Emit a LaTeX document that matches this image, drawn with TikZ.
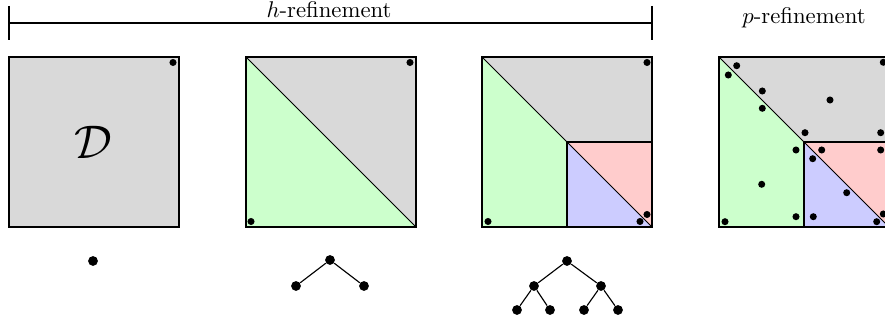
\documentclass[tikz,border=0pt]{standalone}
\usepackage{amsmath}
\tikzset{
  px/.style={x=0.44pt,y=-0.44pt},
  edgeline/.style={line width=0.45pt,draw=black},
  sqdot/.style={circle,fill=black,inner sep=0pt,minimum size=3.1pt},
  treedot/.style={circle,fill=black,inner sep=0pt,minimum size=4.3pt},
  treeedge/.style={line width=0.5pt},
}
\colorlet{cgray}{black!15}
\colorlet{cgreen}{green!20}
\colorlet{cred}{red!20}
\colorlet{cblue}{blue!20}
\begin{document}
\begin{tikzpicture}[px]
\clip (0,0) rectangle (885,327);
\useasboundingbox (0,0) rectangle (885,327);

% header
\coordinate (hl) at (9,23);
\coordinate (hr) at (652,23);
\draw[line width=0.5pt] (hl) -- (hr);
\draw[line width=0.5pt] (9,6) -- (9,40);
\draw[line width=0.5pt] (652,6) -- (652,40);
\node[anchor=base,inner sep=0pt] (htext) at (329,17.5) {$h$-refinement};
\node[anchor=base,inner sep=0pt] (ptext) at (804,23.5) {$p$-refinement};

% square 1
\filldraw[fill=cgray,edgeline] (9,57) rectangle (179,227);
\node (D) at (93,142) {\fontsize{20.5}{24}\selectfont$\mathcal{D}$};
\node[sqdot] (d1a) at (173,62.5) {};

% square 2
\fill[cgray] (246,57) -- (416,57) -- (416,227) -- cycle;
\fill[cgreen] (246,57) -- (416,227) -- (246,227) -- cycle;
\draw[edgeline] (246,57) rectangle (416,227);
\draw[edgeline] (246,57) -- (416,227);
\node[sqdot] (d2a) at (410,62.5) {};
\node[sqdot] (d2b) at (251,221.5) {};

% square 3
\fill[cgray] (482,57) -- (652,57) -- (652,142) -- (567,142) -- cycle;
\fill[cgreen] (482,57) -- (567,142) -- (567,227) -- (482,227) -- cycle;
\fill[cred] (567,142) -- (652,142) -- (652,227) -- cycle;
\fill[cblue] (567,142) -- (567,227) -- (652,227) -- cycle;
\draw[edgeline] (482,57) rectangle (652,227);
\draw[edgeline] (482,57) -- (652,227);
\draw[edgeline] (567,142) -- (652,142);
\draw[edgeline] (567,142) -- (567,227);
\node[sqdot] at (647,62.5) {};
\node[sqdot] at (488,221.5) {};
\node[sqdot] at (647,214.5) {};
\node[sqdot] at (640,221.5) {};

% square 4
\fill[cgray] (719,57) -- (889,57) -- (889,142) -- (804,142) -- cycle;
\fill[cgreen] (719,57) -- (804,142) -- (804,227) -- (719,227) -- cycle;
\fill[cred] (804,142) -- (889,142) -- (889,227) -- cycle;
\fill[cblue] (804,142) -- (804,227) -- (889,227) -- cycle;
\draw[edgeline] (719,57) rectangle (889,227);
\draw[edgeline] (719,57) -- (889,227);
\draw[edgeline] (804,142) -- (889,142);
\draw[edgeline] (804,142) -- (804,227);
\foreach \x/\y in {736.7/65.7, 728.3/75, 762.3/91, 762.3/108.3, 830/100, 883.3/62.3,
  805/132.7, 880.7/132.7, 796/150, 821.7/150, 880.7/150, 812.7/158.7,
  761.7/184.3, 846.7/192.7, 883.3/214, 725/221.7, 796/216.7, 813.3/216.7, 876.7/221.7}
  \node[sqdot] at (\x,\y) {};

% tree 1
\node[treedot] (t1) at (93,261) {};

% tree 2
\node[treedot] (t2r) at (330,260) {};
\node[treedot] (t2a) at (296,286) {};
\node[treedot] (t2b) at (364,286) {};
\draw[treeedge] (t2r) -- (t2a);
\draw[treeedge] (t2r) -- (t2b);

% tree 3
\node[treedot] (t3r) at (567,261) {};
\node[treedot] (t3a) at (534,286) {};
\node[treedot] (t3b) at (601,286) {};
\node[treedot] (t3aa) at (517,310) {};
\node[treedot] (t3ab) at (550,310) {};
\node[treedot] (t3ba) at (584,310) {};
\node[treedot] (t3bb) at (618,310) {};
\draw[treeedge] (t3r) -- (t3a);
\draw[treeedge] (t3r) -- (t3b);
\draw[treeedge] (t3a) -- (t3aa);
\draw[treeedge] (t3a) -- (t3ab);
\draw[treeedge] (t3b) -- (t3ba);
\draw[treeedge] (t3b) -- (t3bb);
\end{tikzpicture}
\end{document}
